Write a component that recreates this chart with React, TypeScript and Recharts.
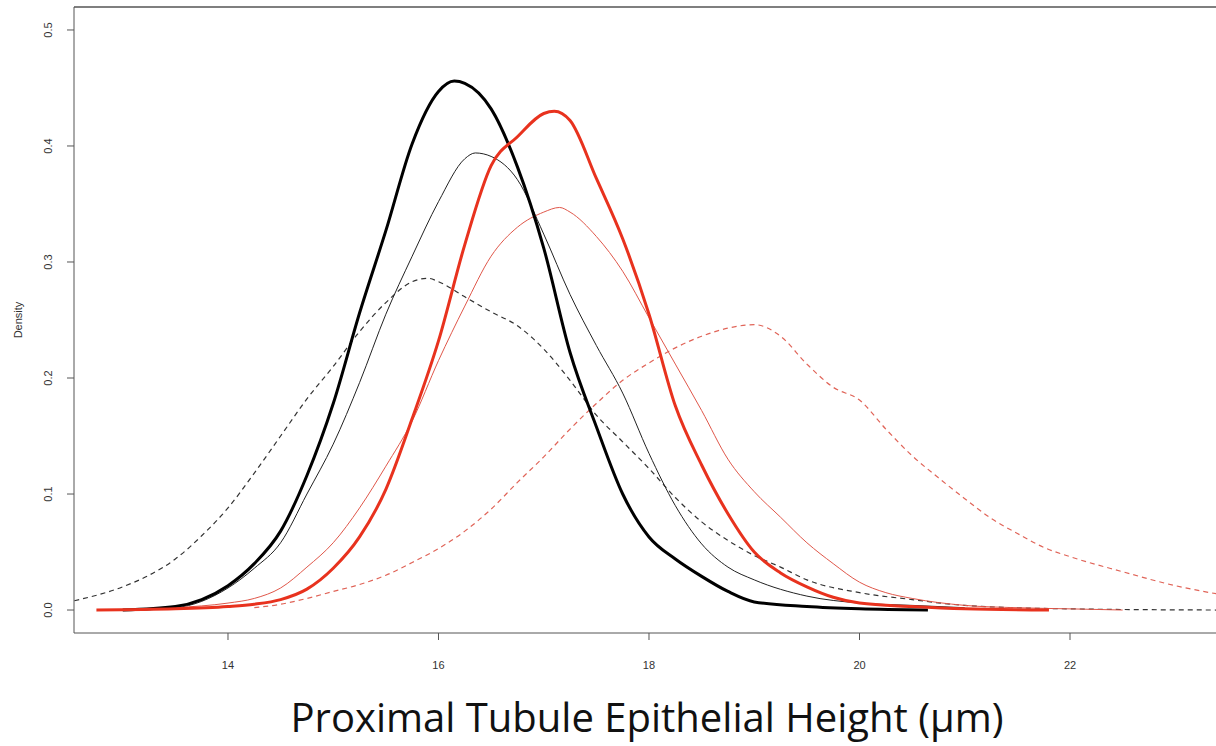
import { LineChart, Line, XAxis, YAxis, ReferenceLine } from "recharts";

// density curves: x = epithelial height (µm), y = density
const blackThickX = [13.0, 13.5, 13.75, 14.0, 14.25, 14.5, 14.75, 15.0, 15.25, 15.5, 15.75, 16.0, 16.15, 16.25, 16.5, 16.75, 17.0, 17.25, 17.5, 17.75, 18.0, 18.25, 18.5, 18.75, 19.0, 19.5, 20.0, 20.65];
const blackThickY = [0.0, 0.003, 0.009, 0.021, 0.04, 0.068, 0.116, 0.178, 0.256, 0.327, 0.402, 0.447, 0.456, 0.454, 0.432, 0.382, 0.312, 0.222, 0.158, 0.1, 0.063, 0.044, 0.029, 0.016, 0.007, 0.003, 0.001, 0.0];

const blackThinX = [13.0, 13.5, 14.0, 14.25, 14.5, 14.75, 15.0, 15.25, 15.5, 15.75, 16.0, 16.25, 16.35, 16.5, 16.75, 17.0, 17.25, 17.5, 17.75, 18.0, 18.25, 18.5, 18.75, 19.0, 19.5, 20.0, 20.5, 21.0];
const blackThinY = [0.0, 0.002, 0.019, 0.036, 0.058, 0.1, 0.143, 0.196, 0.255, 0.305, 0.352, 0.389, 0.394, 0.391, 0.371, 0.324, 0.272, 0.228, 0.187, 0.135, 0.09, 0.057, 0.037, 0.026, 0.012, 0.006, 0.004, 0.002];

const blackDashX = [12.54, 13.0, 13.25, 13.5, 13.75, 14.0, 14.25, 14.5, 14.75, 15.0, 15.25, 15.5, 15.75, 15.9, 16.0, 16.25, 16.5, 16.75, 17.0, 17.25, 17.5, 17.75, 18.0, 18.25, 18.5, 18.75, 19.0, 19.25, 19.5, 20.0, 20.5, 21.0, 22.0, 23.39];
const blackDashY = [0.008, 0.02, 0.03, 0.044, 0.064, 0.088, 0.118, 0.15, 0.182, 0.21, 0.24, 0.265, 0.283, 0.286, 0.283, 0.27, 0.257, 0.245, 0.225, 0.198, 0.168, 0.145, 0.122, 0.097, 0.076, 0.06, 0.047, 0.037, 0.026, 0.015, 0.009, 0.004, 0.001, 0.0];

const redThickX = [12.75, 13.5, 14.0, 14.25, 14.5, 14.75, 15.0, 15.25, 15.5, 15.75, 16.0, 16.25, 16.5, 16.75, 17.0, 17.1, 17.25, 17.5, 17.75, 18.0, 18.25, 18.5, 18.75, 19.0, 19.25, 19.5, 19.75, 20.0, 20.5, 21.0, 21.8];
const redThickY = [0.0, 0.001, 0.003, 0.005, 0.009, 0.018, 0.036, 0.063, 0.104, 0.165, 0.232, 0.315, 0.383, 0.408, 0.428, 0.43, 0.422, 0.372, 0.32, 0.255, 0.176, 0.125, 0.083, 0.05, 0.032, 0.02, 0.011, 0.006, 0.003, 0.001, 0.0];

const redThinX = [13.0, 13.5, 14.0, 14.25, 14.5, 14.75, 15.0, 15.25, 15.5, 15.75, 16.0, 16.25, 16.5, 16.75, 17.0, 17.15, 17.25, 17.5, 17.75, 18.0, 18.25, 18.5, 18.75, 19.0, 19.25, 19.5, 19.75, 20.0, 20.25, 20.5, 21.0, 21.5, 22.0, 22.5];
const redThinY = [0.0, 0.002, 0.006, 0.01, 0.019, 0.037, 0.058, 0.088, 0.124, 0.163, 0.215, 0.262, 0.305, 0.33, 0.343, 0.347, 0.343, 0.322, 0.292, 0.252, 0.212, 0.172, 0.13, 0.102, 0.08, 0.058, 0.04, 0.024, 0.015, 0.01, 0.004, 0.002, 0.001, 0.0];

const redDashX = [14.25, 14.5, 14.75, 15.0, 15.25, 15.5, 15.75, 16.0, 16.25, 16.5, 16.75, 17.0, 17.25, 17.5, 17.75, 18.0, 18.25, 18.5, 18.75, 19.0, 19.25, 19.5, 19.75, 20.0, 20.25, 20.5, 20.75, 21.0, 21.25, 21.5, 21.75, 22.0, 22.5, 23.0, 23.39];
const redDashY = [0.002, 0.005, 0.01, 0.016, 0.022, 0.03, 0.041, 0.053, 0.068, 0.087, 0.11, 0.132, 0.156, 0.178, 0.198, 0.213, 0.226, 0.236, 0.243, 0.246, 0.236, 0.212, 0.192, 0.181, 0.156, 0.133, 0.114, 0.096, 0.079, 0.066, 0.054, 0.046, 0.033, 0.021, 0.014];

const xTicks = [14, 16, 18, 20, 22];
const yTicks = [0, 0.1, 0.2, 0.3, 0.4, 0.5];

const zip = (xs: number[], ys: number[]) => xs.map((x, i) => ({ x, y: ys[i] }));

const AXIS = "#555";
const TICK_FONT = "'Liberation Sans', Arial, sans-serif";

const YTick = ({ y, payload }: any) => (
  <text
    x={52}
    y={y}
    transform={`rotate(-90, 52, ${y})`}
    textAnchor="middle"
    fontSize={11}
    fontFamily={TICK_FONT}
    fill="#333"
  >
    {payload.value.toFixed(1)}
  </text>
);

const XTick = ({ x, payload }: any) => (
  <text x={x} y={669} textAnchor="middle" fontSize={11} fontFamily={TICK_FONT} fill="#333">
    {payload.value}
  </text>
);

export default function App() {
  const Y_MAX = 0.5198;
  return (
    <div style={{ position: "absolute", left: 0, top: 0, width: 1216, height: 746, background: "#fff" }}>
      <LineChart width={1216} height={746} margin={{ top: 7, right: 0, bottom: 53, left: 0 }}>
        <XAxis
          type="number"
          dataKey="x"
          domain={[12.537, 23.387]}
          ticks={xTicks}
          allowDataOverflow
          height={60}
          stroke={AXIS}
          tickSize={7}
          tick={<XTick />}
        />
        <YAxis
          type="number"
          domain={[-0.0198, Y_MAX]}
          ticks={yTicks}
          allowDataOverflow
          width={74}
          stroke={AXIS}
          tickSize={7}
          tick={<YTick />}
        />
        <ReferenceLine y={Y_MAX} stroke={AXIS} strokeWidth={1.5} />
        <Line data={zip(blackDashX, blackDashY)} dataKey="y" type="monotone" stroke="#333" strokeWidth={1.2} strokeDasharray="5 4" dot={false} isAnimationActive={false} />
        <Line data={zip(redDashX, redDashY)} dataKey="y" type="monotone" stroke="#e06458" strokeWidth={1.2} strokeDasharray="5 4" dot={false} isAnimationActive={false} />
        <Line data={zip(blackThinX, blackThinY)} dataKey="y" type="monotone" stroke="#222" strokeWidth={1} dot={false} isAnimationActive={false} />
        <Line data={zip(redThinX, redThinY)} dataKey="y" type="monotone" stroke="#e0574a" strokeWidth={1} dot={false} isAnimationActive={false} />
        <Line data={zip(blackThickX, blackThickY)} dataKey="y" type="monotone" stroke="#000" strokeWidth={3} dot={false} isAnimationActive={false} />
        <Line data={zip(redThickX, redThickY)} dataKey="y" type="monotone" stroke="#e8321e" strokeWidth={3} dot={false} isAnimationActive={false} />
      </LineChart>
      <svg width={1216} height={746} style={{ position: "absolute", left: 0, top: 0, pointerEvents: "none" }}>
        <text
          x={22}
          y={320}
          transform="rotate(-90, 22, 320)"
          textAnchor="middle"
          fontSize={11}
          fontFamily={TICK_FONT}
          fill="#333"
        >
          Density
        </text>
        <text x={647} y={732} textAnchor="middle" fontSize={40} fontFamily="'Open Sans', sans-serif" fill="#111">
          Proximal Tubule Epithelial Height (µm)
        </text>
      </svg>
    </div>
  );
}
